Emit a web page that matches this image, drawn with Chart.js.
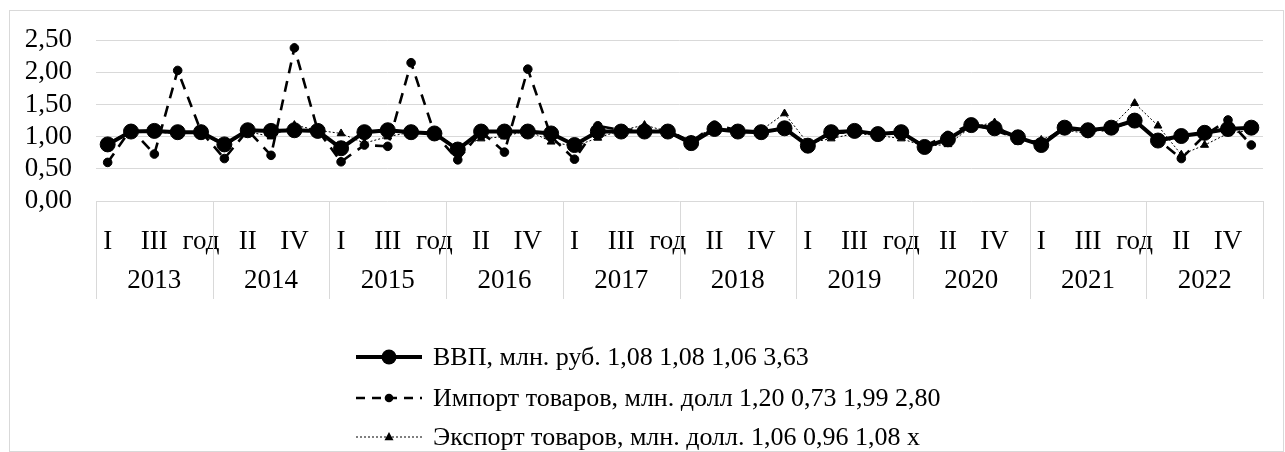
<!DOCTYPE html>
<html>
<head>
<meta charset="utf-8">
<script src="https://cdn.jsdelivr.net/npm/chart.js@4.4.1/dist/chart.umd.min.js"></script>
<style>
html,body{margin:0;padding:0;background:#fff;}
#wrap{width:1285px;height:452px;position:relative;}
</style>
</head>
<body>
<div id="wrap"><canvas id="c" width="1285" height="452"></canvas></div>
<script>
// ---- data ----
const years = ['2013','2014','2015','2016','2017','2018','2019','2020','2021','2022'];
const periods = ['I','II','III','IV','год'];
const categories = [];
years.forEach(() => periods.forEach(p => categories.push(p)));

const seriesNames = [
  'ВВП, млн. руб. 1,08 1,08 1,06 3,63',
  'Импорт товаров, млн. долл 1,20 0,73 1,99 2,80',
  'Экспорт товаров, млн. долл. 1,06 0,96 1,08 х'
];

const gdp = [
  0.88, 1.08, 1.09, 1.07, 1.07,
  0.88, 1.10, 1.09, 1.10, 1.09,
  0.82, 1.07, 1.10, 1.07, 1.05,
  0.80, 1.08, 1.08, 1.08, 1.05,
  0.87, 1.08, 1.08, 1.08, 1.08,
  0.90, 1.12, 1.08, 1.07, 1.13,
  0.86, 1.07, 1.09, 1.04, 1.07,
  0.84, 0.96, 1.18, 1.13, 0.99,
  0.87, 1.14, 1.10, 1.14, 1.25,
  0.94, 1.01, 1.06, 1.12, 1.14
];
const imports = [
  0.60, 1.12, 0.73, 2.03, 1.08,
  0.66, 1.10, 0.71, 2.38, 1.10,
  0.61, 0.87, 0.85, 2.15, 1.05,
  0.64, 1.08, 0.76, 2.05, 1.00,
  0.65, 1.17, 1.10, 1.12, 1.10,
  0.92, 1.18, 1.10, 1.08, 1.12,
  0.88, 1.05, 1.08, 1.05, 1.05,
  0.86, 1.02, 1.20, 1.10, 0.97,
  0.90, 1.15, 1.05, 1.13, 1.25,
  0.95, 0.66, 1.02, 1.26, 0.87
];
const exports = [
  0.90, 1.10, 1.07, 1.05, 1.05,
  0.85, 1.08, 1.00, 1.18, 1.10,
  1.05, 0.90, 1.00, 1.07, 1.07,
  0.82, 0.97, 1.00, 1.10, 0.92,
  0.85, 0.98, 1.10, 1.18, 1.08,
  0.95, 1.15, 1.08, 1.10, 1.36,
  0.90, 0.97, 1.05, 1.02, 0.97,
  0.85, 0.88, 1.15, 1.22, 0.92,
  0.95, 1.10, 1.05, 1.15, 1.52,
  1.17, 0.72, 0.87, 1.05, 1.10
];
const yTickLabels = ['0,00','0,50','1,00','1,50','2,00','2,50'];

// ---- styling ----
const FAMILY = '"Liberation Serif", "Times New Roman", serif';
const FONT = {family: FAMILY, size: 27};
const LEGEND_SIZE = 26;
const GRID = '#d9d9d9';

const decoPlugin = {
  id: 'deco',
  beforeDraw(chart) {
    const ctx = chart.ctx;
    ctx.save();
    ctx.fillStyle = '#fff';
    ctx.fillRect(0, 0, chart.width, chart.height);
    ctx.restore();
  },
  afterDraw(chart) {
    const {ctx, chartArea: ca, scales} = chart;
    const x = scales.x;
    ctx.save();
    // year dividers of the category axis
    ctx.strokeStyle = GRID;
    ctx.lineWidth = 1;
    for (let k = 0; k <= years.length; k++) {
      const px = Math.round(x.getPixelForValue(k * periods.length - 0.5)) + 0.5;
      ctx.beginPath();
      ctx.moveTo(px, ca.bottom);
      ctx.lineTo(px, 299);
      ctx.stroke();
    }
    // outer frame
    ctx.strokeRect(9.5, 10.5, 1274, 441);

    // legend
    const rowsY = [357, 398, 437];
    const x0 = 356, x1 = 422, xm = 389;
    chart.data.datasets.forEach((ds, i) => {
      const y = rowsY[i];
      ctx.strokeStyle = '#000';
      ctx.fillStyle = '#000';
      ctx.lineWidth = ds.borderWidth;
      ctx.setLineDash(ds.legendDash || []);
      ctx.beginPath();
      ctx.moveTo(x0, y);
      ctx.lineTo(x1, y);
      ctx.stroke();
      ctx.setLineDash([]);
      const r = ds.pointRadius;
      ctx.beginPath();
      if (ds.pointStyle === 'triangle') {
        ctx.moveTo(xm, y - r * 1.1);
        ctx.lineTo(xm + r, y + r * 0.7);
        ctx.lineTo(xm - r, y + r * 0.7);
        ctx.closePath();
      } else {
        ctx.arc(xm, y, r, 0, Math.PI * 2);
      }
      ctx.fill();
      ctx.font = LEGEND_SIZE + 'px ' + FAMILY;
      ctx.textBaseline = 'middle';
      ctx.textAlign = 'left';
      ctx.fillText(ds.label, 433, y + 1);
    });
    ctx.restore();
  }
};

new Chart(document.getElementById('c'), {
  type: 'line',
  data: {
    labels: categories,
    datasets: [
      {
        label: seriesNames[0], data: gdp, order: 3,
        borderColor: '#000', backgroundColor: '#000', borderWidth: 4,
        pointStyle: 'circle', pointRadius: 7.5, pointBorderWidth: 1,
        pointBackgroundColor: '#000', pointBorderColor: '#000',
        tension: 0, fill: false
      },
      {
        label: seriesNames[1], data: imports, order: 2,
        borderColor: '#000', backgroundColor: '#000', borderWidth: 2.6,
        borderDash: [11, 8], legendDash: [9, 7],
        pointStyle: 'circle', pointRadius: 4.3, pointBorderWidth: 1,
        pointBackgroundColor: '#000', pointBorderColor: '#000',
        tension: 0, fill: false
      },
      {
        label: seriesNames[2], data: exports, order: 1,
        borderColor: '#000', backgroundColor: '#000', borderWidth: 1,
        borderDash: [2, 2], legendDash: [2, 2],
        pointStyle: 'triangle', pointRadius: 4.5, pointBorderWidth: 1,
        pointBackgroundColor: '#000', pointBorderColor: '#000',
        tension: 0, fill: false
      }
    ]
  },
  options: {
    responsive: false,
    animation: false,
    events: [],
    layout: {padding: {left: 0, right: 22, top: 40, bottom: 155}},
    plugins: {legend: {display: false}, tooltip: {enabled: false}},
    scales: {
      x: {
        type: 'category', offset: true,
        afterFit: s => { s.height = 56; },
        grid: {display: false, drawTicks: false, tickLength: 0}, border: {display: false},
        ticks: {
          autoSkip: false, maxRotation: 0, minRotation: 0, padding: 25,
          font: FONT, color: '#000',
          callback: (v, i) => (i % 2 === 0 ? categories[i] : '')
        }
      },
      x2: {
        type: 'category', labels: years, offset: true, position: 'bottom',
        afterFit: s => { s.height = 40; },
        grid: {display: false, drawTicks: false, tickLength: 0}, border: {display: false},
        ticks: {autoSkip: false, maxRotation: 0, padding: 8, font: FONT, color: '#000'}
      },
      y: {
        min: 0, max: 2.5,
        afterFit: s => { s.width = 96; },
        grid: {color: GRID, drawTicks: false, lineWidth: 1},
        border: {display: false},
        ticks: {
          stepSize: 0.5, autoSkip: false, padding: 24, font: FONT, color: '#000',
          callback: v => yTickLabels[Math.round(v / 0.5)]
        }
      }
    }
  },
  plugins: [decoPlugin]
});
</script>
</body>
</html>
